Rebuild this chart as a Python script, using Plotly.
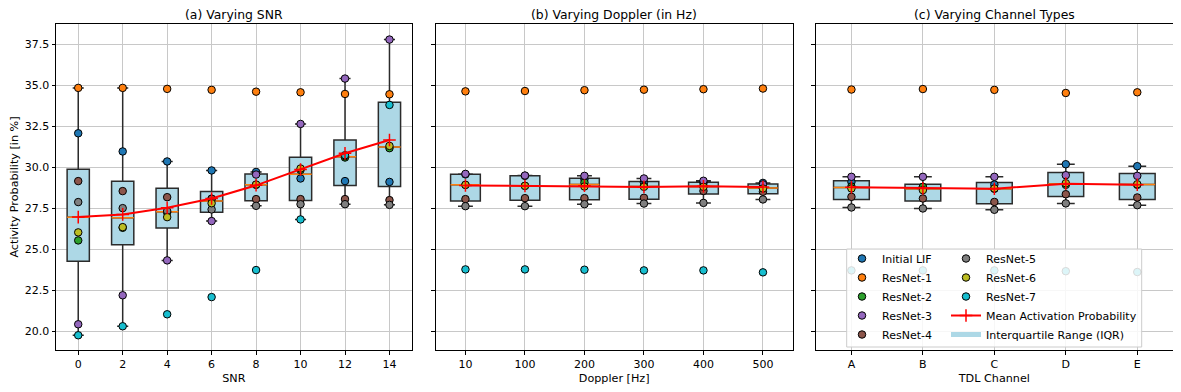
import numpy as np
import plotly.graph_objects as go
from plotly.subplots import make_subplots

# model names and their (matplotlib tab10) colours
models = ["Initial LIF", "ResNet-1", "ResNet-2", "ResNet-3",
          "ResNet-4", "ResNet-5", "ResNet-6", "ResNet-7"]
colors = ["#1f77b4", "#ff7f0e", "#2ca02c", "#9467bd",
          "#8c564b", "#7f7f7f", "#bcbd22", "#17becf"]

# (a) varying SNR  -- one row per model, one column per SNR
snr_labels = ["0", "2", "4", "6", "8", "10", "12", "14"]
snr_values = [
    [32.07, 30.96, 30.35, 29.80, 29.71, 29.31, 29.15, 29.10],
    [34.84, 34.84, 34.78, 34.72, 34.61, 34.57, 34.47, 34.45],
    [25.53, 26.30, 27.24, 28.08, 28.92, 29.83, 30.59, 31.16],
    [20.41, 22.18, 24.31, 26.71, 29.55, 32.64, 35.41, 37.79],
    [29.15, 28.54, 28.17, 28.07, 28.05, 28.05, 28.05, 27.99],
    [27.87, 27.50, 27.32, 27.42, 27.64, 27.74, 27.74, 27.70],
    [26.02, 26.34, 26.95, 27.80, 28.94, 29.92, 30.67, 31.30],
    [19.74, 20.29, 21.02, 22.07, 23.72, 26.81, 30.73, 33.80],
]

# (b) varying Doppler
doppler_labels = ["10", "100", "200", "300", "400", "500"]
doppler_values = [
    [29.56, 29.47, 29.27, 29.07, 29.04, 29.04],
    [34.63, 34.65, 34.70, 34.73, 34.76, 34.80],
    [28.92, 28.86, 29.07, 28.85, 28.85, 28.75],
    [29.59, 29.49, 29.47, 29.31, 29.17, 28.95],
    [28.05, 28.11, 28.11, 28.13, 28.55, 28.50],
    [27.62, 27.62, 27.74, 27.78, 27.82, 28.03],
    [28.92, 28.86, 28.82, 28.80, 28.80, 28.70],
    [23.76, 23.76, 23.74, 23.70, 23.70, 23.58],
]

# (c) varying TDL channel type
tdl_labels = ["A", "B", "C", "D", "E"]
tdl_values = [
    [29.10, 28.78, 28.94, 30.18, 30.06],
    [34.74, 34.77, 34.72, 34.53, 34.57],
    [28.82, 28.80, 28.68, 28.92, 28.92],
    [29.41, 29.41, 29.41, 29.51, 29.47],
    [28.19, 28.09, 27.88, 28.35, 28.15],
    [27.54, 27.48, 27.40, 27.79, 27.68],
    [28.70, 28.60, 28.70, 29.02, 28.96],
    [23.70, 23.70, 23.70, 23.65, 23.60],
]

titles = ["(a) Varying SNR", "(b) Varying Doppler (in Hz)", "(c) Varying Channel Types"]
xtitles = ["SNR", "Doppler [Hz]", "TDL Channel"]

FONT = "DejaVu Sans"
W, H = 1181, 392
OFF = 8  # page body margin
ML, MR, MT, MB = 56, 8, 24, 42
PW = W - ML - MR
PH = H - MT - MB
domains = [(56, 411.7), (435.7, 792.7), (815.7, 1173)]


def box_stats(rows):
    arr = np.array(rows)
    q1, med, q3 = np.percentile(arr, [25, 50, 75], axis=0)
    iqr = q3 - q1
    lo, hi = [], []
    for j in range(arr.shape[1]):
        col = arr[:, j]
        lo.append(col[col >= q1[j] - 1.5 * iqr[j]].min())
        hi.append(col[col <= q3[j] + 1.5 * iqr[j]].max())
    return q1, med, q3, lo, hi, arr.mean(axis=0)


def px_x(v):
    return (v - ML) / PW


def px_y(v):
    return (H - MB - v) / PH


fig = make_subplots(rows=1, cols=3, shared_yaxes=True)

panels = [(snr_labels, snr_values), (doppler_labels, doppler_values), (tdl_labels, tdl_values)]
for p, (labels, values) in enumerate(panels):
    col = p + 1
    first = p == 0
    q1, med, q3, lo, hi, mean = box_stats(values)

    fig.add_trace(go.Box(
        x=labels, q1=q1, median=med, q3=q3, lowerfence=lo, upperfence=hi,
        width=0.5, whiskerwidth=0.5, boxpoints=False,
        fillcolor="#add8e6", line=dict(color="#2b2b2b", width=1.5),
        showlegend=False, hoverinfo="skip",
    ), row=1, col=col)

    # orange median line over each box
    box_px = 0.5 * (domains[p][1] - domains[p][0]) / len(labels)
    fig.add_trace(go.Scatter(
        x=labels, y=med, mode="markers",
        marker=dict(symbol="line-ew", size=box_px / 1.4,
                    line=dict(color="#ff7f0e", width=1.5)),
        showlegend=False, hoverinfo="skip",
    ), row=1, col=col)

    for m, name in enumerate(models):
        fig.add_trace(go.Scatter(
            x=labels, y=values[m], mode="markers", name=name,
            marker=dict(size=7.5, color=colors[m], line=dict(color="black", width=1)),
            showlegend=first, legend="legend" if m < 5 else "legend2",
        ), row=1, col=col)

    fig.add_trace(go.Scatter(
        x=labels, y=mean, mode="lines+markers", name="Mean Activation Probability",
        line=dict(color="red", width=2),
        marker=dict(symbol="cross-thin", size=9, color="red", line=dict(color="red", width=1.5)),
        showlegend=first, legend="legend2",
    ), row=1, col=col)

# legend-only handle for the IQR boxes
fig.add_trace(go.Scatter(
    x=[None], y=[None], mode="lines", name="Interquartile Range (IQR)",
    line=dict(color="#add8e6", width=5), legend="legend2",
), row=1, col=1)

axis_common = dict(
    showline=True, linecolor="black", linewidth=1, mirror=True,
    ticks="outside", ticklen=3.5, tickwidth=1, tickcolor="black",
    showgrid=True, gridcolor="#c8c8c8", gridwidth=1, zeroline=False,
    tickfont=dict(size=11, color="black"),
)

for p, (labels, _) in enumerate(panels):
    d0 = min(max(px_x(domains[p][0]), 0), 1)
    d1 = min(max(px_x(domains[p][1]), 0), 1)
    fig.update_xaxes(
        axis_common, type="category", range=[-0.5, len(labels) - 0.5],
        domain=[d0, d1],
        title=dict(text=xtitles[p], font=dict(size=11.2, color="black"), standoff=4),
        row=1, col=p + 1,
    )
    fig.update_yaxes(
        axis_common, range=[18.84, 38.74], tick0=20, dtick=2.5, tickformat=".1f",
        showticklabels=(p == 0), row=1, col=p + 1,
    )
    fig.add_annotation(
        text=titles[p], xref="paper", yref="paper",
        x=(d0 + d1) / 2, y=1, xanchor="center", yanchor="bottom", yshift=0,
        showarrow=False, font=dict(size=12.4, color="black"),
    )

fig.update_yaxes(
    title=dict(text="Activity Probability [in %]", font=dict(size=11.2, color="black"), standoff=5),
    row=1, col=1,
)

# legend frame (two columns drawn as two legends)
fig.add_shape(
    type="rect", xref="paper", yref="paper", layer="above",
    x0=px_x(846.7), x1=px_x(1141.7), y0=px_y(347), y1=px_y(249),
    fillcolor="rgba(255,255,255,0.85)", line=dict(color="#cccccc", width=1),
)

legend_common = dict(
    xanchor="left", yanchor="top", bgcolor="rgba(0,0,0,0)", borderwidth=0,
    font=dict(size=11, color="black"), tracegroupgap=0,
)
fig.update_layout(
    width=W - OFF, height=H - OFF,
    margin=dict(l=ML - OFF, r=MR, t=MT - OFF, b=MB, autoexpand=False),
    paper_bgcolor="white", plot_bgcolor="white",
    font=dict(family=FONT, color="black"),
    legend=dict(legend_common, x=px_x(842), y=px_y(244)),
    legend2=dict(legend_common, x=px_x(946), y=px_y(244)),
)

fig.write_html("out.html")
